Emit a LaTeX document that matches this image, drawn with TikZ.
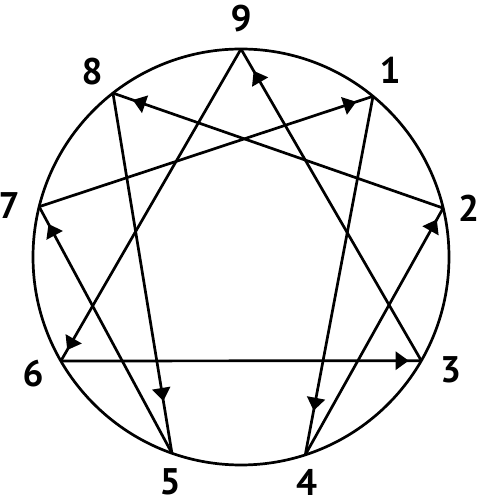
\documentclass[tikz,border=0pt]{standalone}
\usepackage{fontspec}
\setmainfont{PT Sans}
\usetikzlibrary{arrows.meta,decorations.markings}

\begin{document}
\begin{tikzpicture}[x=1pt,y=1pt,
  line/.style={line width=2.7pt},
  num/.style={font=\bfseries\fontsize{37}{37}\selectfont, inner sep=0pt},
  tip/.tip={Triangle[length=13pt,width=18pt]}]
\useasboundingbox (0,0) rectangle (480,503);
\coordinate (c) at (241,246);
\draw[line] (c) circle (208pt);
\foreach \n/\a/\x/\y in {9/90/241/484, 1/50.6/390/433, 2/13.6/468.5/295,
    3/-29.9/450.5/133.5, 4/-72/306.5/21, 5/-109.4/170/21, 6/-150/33/129.5,
    7/166/9/297, 8/128/92/431}
{
    \path (c) ++(\a:208pt) coordinate (v\n);
    \node[num] (l\n) at (\x,\y) {\n};
}
\foreach \s/\t/\p in {3/9/0.93, 9/6/0.965, 6/3/0.965, 1/4/0.877, 4/2/0.954,
    2/8/0.94, 8/5/0.855, 5/7/0.93, 7/1/0.95}
    \draw[line, postaction={decorate, decoration={markings,
        mark=at position \p with {\arrow{tip}}}}] (v\s) -- (v\t);
\end{tikzpicture}
\end{document}
